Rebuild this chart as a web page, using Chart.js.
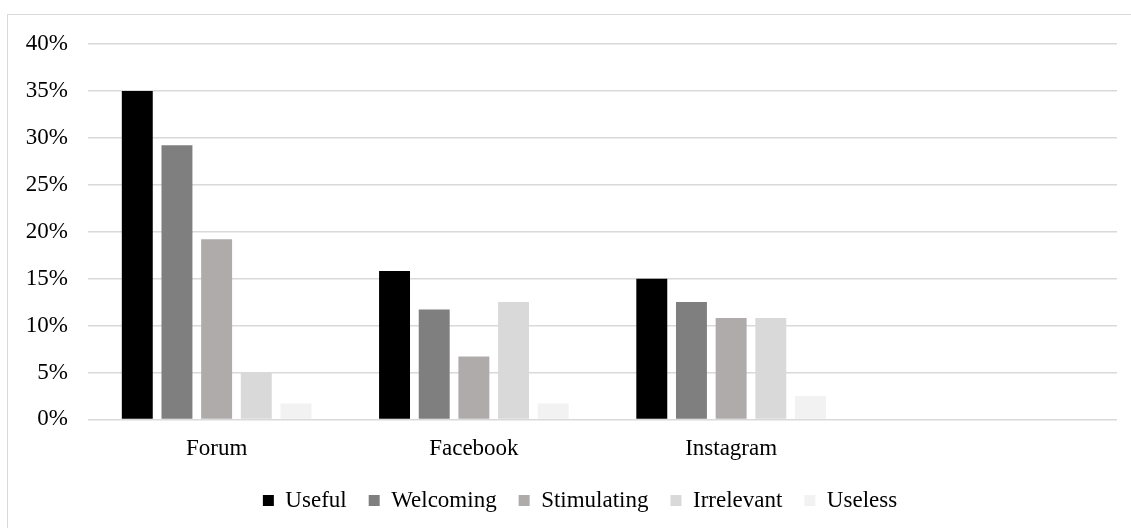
<!DOCTYPE html>
<html>
<head>
<meta charset="utf-8">
<script src="https://cdn.jsdelivr.net/npm/chart.js@4/dist/chart.umd.min.js"></script>
<style>
  html, body { margin: 0; padding: 0; background: #fff; }
  body { width: 1131px; height: 528px; position: relative; overflow: hidden; }
  #frame { position: absolute; left: 7px; top: 14px; width: 1140px; height: 540px; border: 1px solid #d9d9d9; box-sizing: border-box; }
  #wrap { position: absolute; left: 0; top: 0; width: 1131px; height: 528px; }
</style>
</head>
<body>
<div id="frame"></div>
<div id="wrap"><canvas id="c" width="1131" height="528"></canvas></div>
<script>
const categories = ['Forum', 'Facebook', 'Instagram', ''];
const seriesNames = ['Useful', 'Welcoming', 'Stimulating', 'Irrelevant', 'Useless'];
const useful      = [35.0, 15.8, 15.0, null];
const welcoming   = [29.2, 11.7, 12.5, null];
const stimulating = [19.2, 6.7, 10.8, null];
const irrelevant  = [5.0, 12.5, 10.8, null];
const useless     = [1.7, 1.7, 2.5, null];
const yTicks = [0, 5, 10, 15, 20, 25, 30, 35, 40];
const colors = ['#000000', '#7f7f7f', '#afabab', '#d9d9d9', '#f2f2f2'];

const values = [useful, welcoming, stimulating, irrelevant, useless];
const FONT = '"Liberation Serif", "Times New Roman", serif';

const legendShift = {
  id: 'legendShift',
  afterLayout(chart) {
    if (chart.legend) { chart.legend.left += 9; chart.legend.right += 9; }
  }
};

new Chart(document.getElementById('c'), {
  type: 'bar',
  data: {
    labels: categories,
    datasets: seriesNames.map((n, i) => ({
      label: n,
      data: values[i],
      backgroundColor: colors[i],
      borderWidth: 0,
      categoryPercentage: 0.771,
      barPercentage: 0.78
    }))
  },
  plugins: [legendShift],
  options: {
    responsive: false,
    animation: false,
    devicePixelRatio: 1,
    layout: { padding: { left: 25, right: 14, top: 44, bottom: 6 } },
    plugins: {
      legend: {
        position: 'bottom',
        labels: {
          boxWidth: 11,
          boxHeight: 11,
          padding: 22,
          color: '#000',
          font: { family: FONT, size: 23 }
        }
      },
      tooltip: { enabled: false }
    },
    scales: {
      x: {
        afterFit: (s) => { s.height -= 12; },
        grid: { display: false, drawTicks: false },
        border: { display: false },
        ticks: { color: '#000', font: { family: FONT, size: 23 }, padding: 16, maxRotation: 0 }
      },
      y: {
        min: 0, max: 40,
        afterFit: (s) => { s.width = 63; },
        afterBuildTicks: (s) => { s.ticks = yTicks.map(v => ({ value: v })); },
        grid: { color: '#d9d9d9', lineWidth: 1.5, drawTicks: false },
        border: { display: false },
        ticks: {
          color: '#000',
          padding: 20,
          font: { family: FONT, size: 23 },
          callback: (v) => v + '%'
        }
      }
    }
  }
});
</script>
</body>
</html>
